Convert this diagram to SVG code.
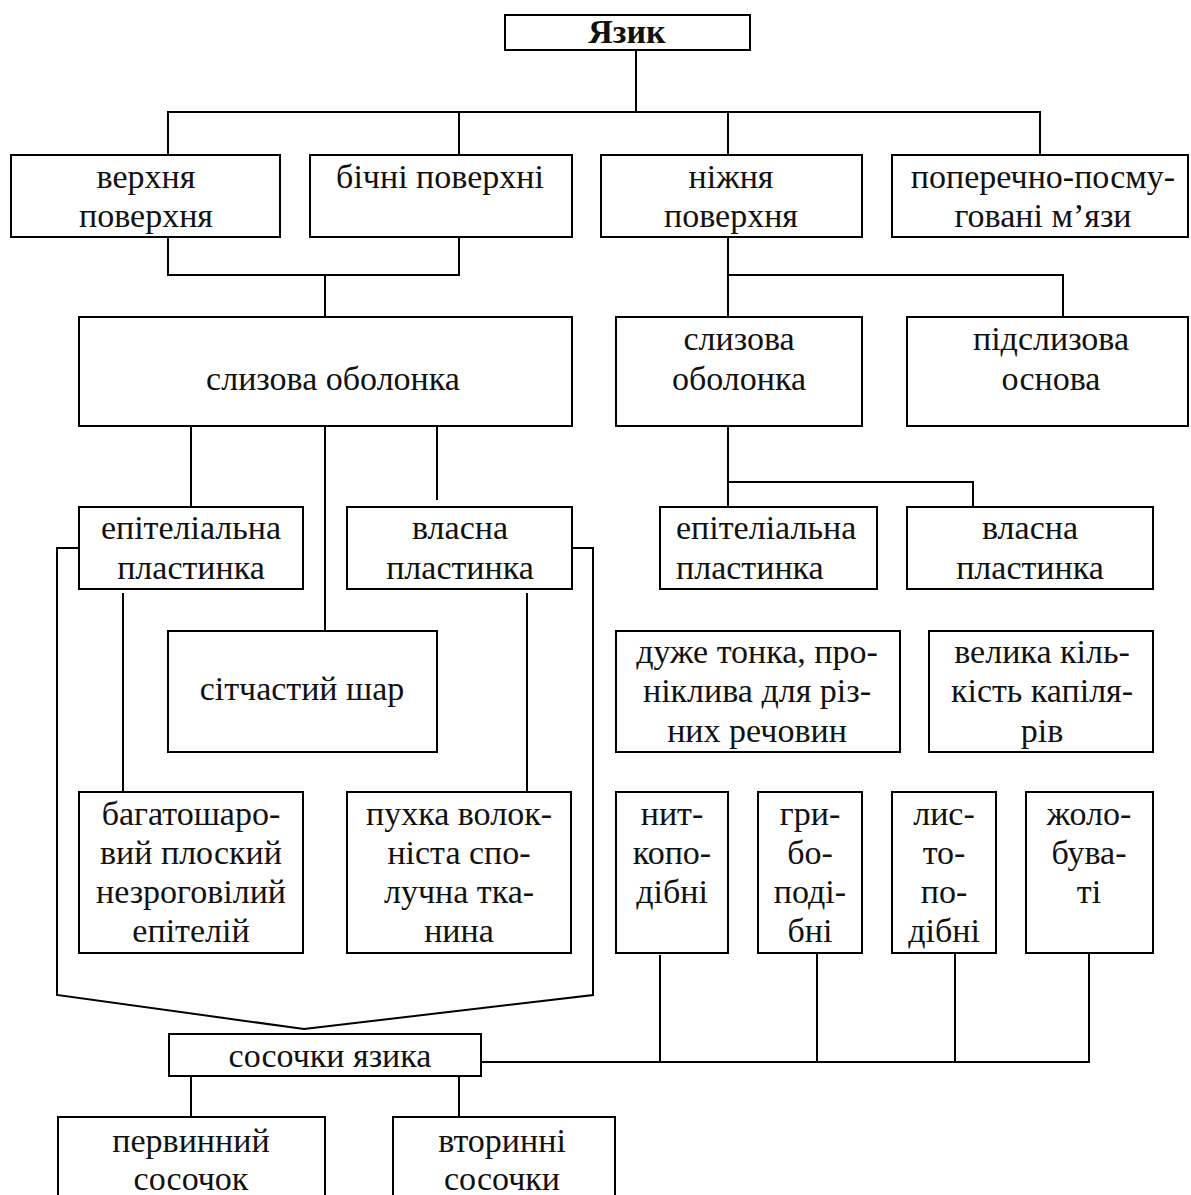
<svg xmlns="http://www.w3.org/2000/svg" width="1191" height="1195" viewBox="0 0 1191 1195">
  <style>
    .box { fill: #ffffff; stroke: #000000; stroke-width: 2; }
    .ln { fill: none; stroke: #000000; stroke-width: 2; }
    text { font-family: "Liberation Serif", "Times New Roman", serif; font-size: 34px; fill: #111111; text-anchor: middle; }
    .bold { font-weight: bold; }
    .left { text-anchor: start; }
  </style>
  <rect width="1191" height="1195" fill="#ffffff"/>

  <!-- connectors -->
  <g id="connectors" class="ln">
    <!-- root to first level -->
    <path d="M636 50 V112"/>
    <path d="M168 155 V112 H1040 V155"/>
    <path d="M459 112 V155"/>
    <path d="M728 112 V155"/>
    <!-- upper + lateral surfaces to mucosa -->
    <path d="M168 237 V275 H459 V237"/>
    <path d="M325 275 V317"/>
    <!-- mucosa (left) children -->
    <path d="M191 426 V507"/>
    <path d="M325 426 V631"/>
    <path d="M437 426 V500"/>
    <path d="M123 593 V792"/>
    <path d="M527 593 V792"/>
    <!-- outer brackets to papillae -->
    <path d="M79 548 H57 V995 L304 1029 L593 995 V548 H572"/>
    <!-- lower surface -->
    <path d="M728 237 V317"/>
    <path d="M728 275 H1063 V317"/>
    <path d="M728 426 V507"/>
    <path d="M728 482 H973 V507"/>
    <!-- papilla types to papillae of tongue -->
    <path d="M481 1062 H1089"/>
    <path d="M660 955 V1062"/>
    <path d="M817 950 V1062"/>
    <path d="M955 953 V1062"/>
    <path d="M1089 950 V1063"/>
    <!-- papillae to primary / secondary -->
    <path d="M191 1076 V1117"/>
    <path d="M459 1076 V1117"/>
  </g>

  <g id="n-root">
    <rect class="box" x="505" y="15" width="245" height="35"/>
    <text class="bold" x="627" y="43">Язик</text>
  </g>

  <g id="n-upper">
    <rect class="box" x="11" y="155" width="269" height="82"/>
    <text x="146" y="188">верхня</text>
    <text x="146" y="227">поверхня</text>
  </g>
  <g id="n-lateral">
    <rect class="box" x="310" y="155" width="262" height="82"/>
    <text x="440" y="188">бічні поверхні</text>
  </g>
  <g id="n-lower">
    <rect class="box" x="601" y="155" width="261" height="82"/>
    <text x="731" y="188">ніжня</text>
    <text x="731" y="227">поверхня</text>
  </g>
  <g id="n-muscles">
    <rect class="box" x="892" y="155" width="296" height="82"/>
    <text x="1043" y="188">поперечно-посму-</text>
    <text x="1043" y="227">говані м’язи</text>
  </g>

  <g id="n-mucosa-left">
    <rect class="box" x="79" y="317" width="493" height="109"/>
    <text x="333" y="390">слизова оболонка</text>
  </g>
  <g id="n-mucosa-right">
    <rect class="box" x="616" y="317" width="246" height="109"/>
    <text x="739" y="350">слизова</text>
    <text x="739" y="390">оболонка</text>
  </g>
  <g id="n-submucosa">
    <rect class="box" x="907" y="317" width="281" height="109"/>
    <text x="1051" y="350">підслизова</text>
    <text x="1051" y="390">основа</text>
  </g>

  <g id="n-epith-left">
    <rect class="box" x="79" y="507" width="224" height="82"/>
    <text x="191" y="539">епітеліальна</text>
    <text x="191" y="579">пластинка</text>
  </g>
  <g id="n-propria-left">
    <rect class="box" x="347" y="507" width="225" height="82"/>
    <text x="460" y="539">власна</text>
    <text x="460" y="579">пластинка</text>
  </g>
  <g id="n-epith-right">
    <rect class="box" x="660" y="507" width="217" height="82"/>
    <text class="left" x="676" y="539">епітеліальна</text>
    <text class="left" x="676" y="579">пластинка</text>
  </g>
  <g id="n-propria-right">
    <rect class="box" x="907" y="507" width="246" height="82"/>
    <text x="1030" y="539">власна</text>
    <text x="1030" y="579">пластинка</text>
  </g>

  <g id="n-reticular">
    <rect class="box" x="168" y="631" width="269" height="121"/>
    <text x="302" y="700">сітчастий шар</text>
  </g>
  <g id="n-thin">
    <rect class="box" x="616" y="631" width="284" height="121"/>
    <text x="757" y="663">дуже тонка, про-</text>
    <text x="757" y="702">ніклива для різ-</text>
    <text x="757" y="742">них речовин</text>
  </g>
  <g id="n-capillaries">
    <rect class="box" x="929" y="631" width="224" height="121"/>
    <text x="1042" y="663">велика кіль-</text>
    <text x="1042" y="702">кість капіля-</text>
    <text x="1042" y="742">рів</text>
  </g>

  <g id="n-stratified">
    <rect class="box" x="79" y="792" width="224" height="161"/>
    <text x="191" y="825">багатошаро-</text>
    <text x="191" y="864">вий плоский</text>
    <text x="191" y="903">незроговілий</text>
    <text x="191" y="942">епітелій</text>
  </g>
  <g id="n-loose">
    <rect class="box" x="347" y="792" width="224" height="161"/>
    <text x="459" y="825">пухка волок-</text>
    <text x="459" y="864">ніста спо-</text>
    <text x="459" y="903">лучна тка-</text>
    <text x="459" y="942">нина</text>
  </g>
  <g id="n-filiform">
    <rect class="box" x="616" y="792" width="112" height="161"/>
    <text x="672" y="825">нит-</text>
    <text x="672" y="864">копо-</text>
    <text x="672" y="903">дібні</text>
  </g>
  <g id="n-fungiform">
    <rect class="box" x="758" y="792" width="104" height="161"/>
    <text x="810" y="825">гри-</text>
    <text x="810" y="864">бо-</text>
    <text x="810" y="903">поді-</text>
    <text x="810" y="942">бні</text>
  </g>
  <g id="n-foliate">
    <rect class="box" x="892" y="792" width="104" height="161"/>
    <text x="944" y="825">лис-</text>
    <text x="944" y="864">то-</text>
    <text x="944" y="903">по-</text>
    <text x="944" y="942">дібні</text>
  </g>
  <g id="n-vallate">
    <rect class="box" x="1026" y="792" width="127" height="161"/>
    <text x="1089" y="825">жоло-</text>
    <text x="1089" y="864">бува-</text>
    <text x="1089" y="903">ті</text>
  </g>

  <g id="n-papillae">
    <rect class="box" x="169" y="1034" width="312" height="42"/>
    <text x="330" y="1067">сосочки язика</text>
  </g>
  <g id="n-primary">
    <rect class="box" x="58" y="1117" width="267" height="90"/>
    <text x="191" y="1152">первинний</text>
    <text x="191" y="1190">сосочок</text>
  </g>
  <g id="n-secondary">
    <rect class="box" x="393" y="1117" width="222" height="90"/>
    <text x="502" y="1152">вторинні</text>
    <text x="502" y="1190">сосочки</text>
  </g>
</svg>
